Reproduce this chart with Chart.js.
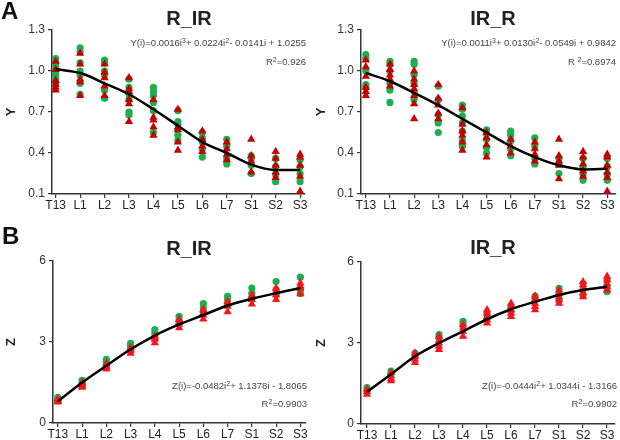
<!DOCTYPE html>
<html>
<head>
<meta charset="utf-8">
<script src="https://cdn.jsdelivr.net/npm/chart.js@4.4.1/dist/chart.umd.min.js"></script>
<style>
  body { margin: 0; background: #fff; font-family: "Liberation Sans", Arial, sans-serif; }
  #wrap { position: relative; width: 620px; height: 440px; overflow: hidden; }
  #wrap canvas { position: absolute; }
  .t { position: absolute; white-space: nowrap; color: #222; line-height: 1; }
  .letter { font-weight: bold; font-size: 24px; color: #111; }
  .title { font-weight: bold; font-size: 20px; transform: translateX(-50%); }
  .eq { font-size: 9.5px; color: #444; text-align: right; }
  .eq sup { font-size: 7px; vertical-align: 3px; line-height: 0; }
</style>
</head>
<body>
<div id="wrap">
  <canvas id="cA1" width="310" height="220" style="left:0;top:0"></canvas>
  <canvas id="cA2" width="310" height="220" style="left:310px;top:0"></canvas>
  <canvas id="cB1" width="310" height="220" style="left:0;top:220px"></canvas>
  <canvas id="cB2" width="310" height="220" style="left:310px;top:220px"></canvas>

  <div class="t letter" style="left:1px;top:-1px">A</div>
  <div class="t letter" style="left:2px;top:224px">B</div>

  <div class="t title" style="left:189px;top:8px">R_IR</div>
  <div class="t title" style="left:493px;top:8px">IR_R</div>
  <div class="t title" style="left:189px;top:238px">R_IR</div>
  <div class="t title" style="left:493px;top:237px">IR_R</div>

  <div class="t eq" style="right:314px;top:38px">Y(i)=0.0016i<sup>3</sup>+ 0.0224i<sup>2</sup>- 0.0141i + 1.0255</div>
  <div class="t eq" style="right:314px;top:57px">R<sup>2</sup>=0.926</div>
  <div class="t eq" style="right:4px;top:38px">Y(i)=0.0011i<sup>3</sup>+ 0.0130i<sup>2</sup>- 0.0549i + 0.9842</div>
  <div class="t eq" style="right:4px;top:57px">R <sup>2</sup>=0.8974</div>
  <div class="t eq" style="right:313px;top:381px">Z(i)=-0.0482i<sup>2</sup>+ 1.1378i - 1.8065</div>
  <div class="t eq" style="right:313px;top:399px">R<sup>2</sup>=0.9903</div>
  <div class="t eq" style="right:3px;top:381px">Z(i)=-0.0444i<sup>2</sup>+ 1.0344i - 1.3166</div>
  <div class="t eq" style="right:3px;top:399px">R<sup>2</sup>=0.9902</div>
</div>

<script>
// segments along the x axis
const categories = ['T13', 'L1', 'L2', 'L3', 'L4', 'L5', 'L6', 'L7', 'S1', 'S2', 'S3'];

// tick labels
const yTicksA = [0.1, 0.4, 0.7, 1.0, 1.3];
const zTicksB = [0, 3, 6];

// panel A, R_IR : one list of values per segment
const yRIRGreen = [
  [1.09, 1.06, 1.03, 1.00, 0.97, 0.94, 0.91],
  [1.17, 1.14, 1.06, 1.00, 0.97, 0.91, 0.83],
  [1.08, 1.06, 1.00, 0.97, 0.86, 0.80],
  [0.94, 0.88, 0.83, 0.79, 0.70, 0.68],
  [0.88, 0.85, 0.82, 0.77, 0.71, 0.55],
  [0.71, 0.63, 0.61, 0.57, 0.53, 0.49],
  [0.55, 0.51, 0.48, 0.43, 0.37],
  [0.50, 0.45, 0.36, 0.32],
  [0.38, 0.36, 0.31, 0.25],
  [0.36, 0.30, 0.24, 0.19],
  [0.35, 0.30, 0.25, 0.19]
];
const yRIRRed = [
  [1.07, 1.01, 0.93, 0.90, 0.88, 0.86],
  [1.13, 1.05, 0.94, 0.92, 0.82],
  [1.05, 0.99, 0.95, 0.89, 0.82],
  [0.95, 0.87, 0.85, 0.79, 0.76, 0.63],
  [0.79, 0.66, 0.64, 0.59, 0.53],
  [0.72, 0.59, 0.57, 0.48, 0.42],
  [0.56, 0.50, 0.45, 0.41],
  [0.48, 0.43, 0.39, 0.35],
  [0.50, 0.38, 0.34, 0.26],
  [0.41, 0.36, 0.31, 0.26, 0.22],
  [0.39, 0.37, 0.31, 0.23, 0.12]
];
const yRIRFit = [1.014, 0.985, 0.91, 0.83, 0.72, 0.60, 0.48, 0.40, 0.315, 0.276, 0.276];

// panel A, IR_R
const yIRRGreen = [
  [1.12, 1.09, 1.00, 0.90, 0.88],
  [1.07, 1.05, 1.00, 0.91, 0.86, 0.77],
  [1.07, 1.05, 0.97, 0.91, 0.85, 0.79],
  [0.89, 0.79, 0.68, 0.62, 0.55],
  [0.75, 0.72, 0.67, 0.62, 0.56, 0.49, 0.45],
  [0.57, 0.54, 0.50, 0.44, 0.40],
  [0.56, 0.53, 0.49, 0.43, 0.38],
  [0.51, 0.45, 0.36, 0.32],
  [0.36, 0.32, 0.25],
  [0.36, 0.30, 0.24, 0.20],
  [0.36, 0.30, 0.24, 0.20]
];
const yIRRRed = [
  [1.08, 1.03, 0.96, 0.88, 0.85, 0.82],
  [1.05, 1.01, 0.97, 0.94, 0.89],
  [1.00, 0.94, 0.90, 0.87, 0.82, 0.76, 0.65],
  [0.90, 0.80, 0.75, 0.69, 0.65],
  [0.73, 0.61, 0.56, 0.53, 0.48, 0.42],
  [0.55, 0.51, 0.46, 0.37],
  [0.50, 0.45, 0.40],
  [0.48, 0.43, 0.39, 0.34],
  [0.50, 0.38, 0.34, 0.31, 0.21],
  [0.41, 0.37, 0.32, 0.27, 0.23],
  [0.39, 0.37, 0.31, 0.26, 0.22, 0.12]
];
const yIRRFit = [0.985, 0.925, 0.84, 0.75, 0.65, 0.55, 0.45, 0.37, 0.31, 0.28, 0.285];

// panel B, R_IR
const zRIRGreen = [
  [0.95, 0.88, 0.83],
  [1.58, 1.50, 1.42],
  [2.36, 2.24, 2.14],
  [2.95, 2.85, 2.75],
  [3.46, 3.34, 3.22],
  [3.95, 3.82, 3.70],
  [4.42, 4.26, 4.10],
  [4.69, 4.57, 4.42],
  [5.00, 4.81, 4.62],
  [5.24, 4.93, 4.75],
  [5.40, 4.93, 4.80]
];
const zRIRRed = [
  [0.89, 0.84, 0.80, 0.77],
  [1.50, 1.44, 1.38, 1.32],
  [2.12, 2.06, 2.00, 2.20],
  [2.79, 2.72, 2.67, 2.58],
  [3.22, 3.15, 3.10, 2.97],
  [3.83, 3.72, 3.65, 3.52],
  [4.20, 4.10, 4.00, 3.85],
  [4.50, 4.40, 4.32, 4.12],
  [4.75, 4.66, 4.57, 4.40],
  [5.00, 4.87, 4.75, 4.57],
  [5.18, 5.08, 5.00, 4.78]
];
const zRIRFit = [0.80, 1.50, 2.12, 2.73, 3.24, 3.65, 4.00, 4.35, 4.60, 4.81, 5.00];

// panel B, IR_R
const zIRRGreen = [
  [1.35, 1.23],
  [1.96, 1.85],
  [2.63, 2.50],
  [3.31, 3.19],
  [3.80, 3.67],
  [4.10, 3.90],
  [4.35, 4.15],
  [4.74, 4.60],
  [5.02, 4.80, 4.59],
  [5.20, 4.98, 4.78],
  [5.33, 5.10, 4.90]
];
const zIRRRed = [
  [1.29, 1.20, 1.10],
  [1.90, 1.78, 1.68, 1.60],
  [2.63, 2.50, 2.39, 2.27],
  [3.25, 3.10, 3.00, 2.88, 2.76],
  [3.67, 3.55, 3.43, 3.25],
  [4.23, 4.10, 3.98, 3.86, 3.74],
  [4.47, 4.35, 4.23, 4.10, 3.98],
  [4.74, 4.60, 4.47, 4.35, 4.23],
  [4.96, 4.84, 4.71, 4.59, 4.47],
  [5.27, 5.15, 5.02, 4.86, 4.71],
  [5.47, 5.33, 5.20, 5.08, 4.96]
];
const zIRRFit = [1.19, 1.84, 2.51, 3.00, 3.43, 3.88, 4.25, 4.53, 4.78, 4.96, 5.08];

const GREEN = '#1cae4f';
const FONT = '"Liberation Sans", Arial, sans-serif';

// turn per-segment lists into scatter points
function toPoints(lists) {
  return lists.flatMap((vals, i) => vals.map(v => ({ x: i, y: v })));
}

function makePanel(id, green, red, fit, redColor, ticks, decimals, yTitle, box) {
  return new Chart(document.getElementById(id), {
    type: 'scatter',
    data: {
      datasets: [
        {
          type: 'line',
          data: fit.map((v, i) => ({ x: i, y: v })),
          borderColor: '#000',
          borderWidth: 2.5,
          pointRadius: 0,
          cubicInterpolationMode: 'monotone',
          fill: false,
          order: 0
        },
        {
          data: toPoints(red),
          pointStyle: 'triangle',
          pointRadius: 4.8,
          backgroundColor: redColor,
          borderColor: redColor,
          borderWidth: 0,
          order: 1
        },
        {
          data: toPoints(green),
          pointStyle: 'circle',
          pointRadius: 3.6,
          backgroundColor: GREEN,
          borderColor: GREEN,
          borderWidth: 0,
          order: 2
        }
      ]
    },
    options: {
      responsive: false,
      animation: false,
      events: [],
      layout: { padding: { top: box.top, right: box.right, left: 0, bottom: 0 } },
      plugins: { legend: { display: false }, tooltip: { enabled: false } },
      scales: {
        x: {
          type: 'linear',
          min: box.xmin,
          max: box.xmax,
          afterBuildTicks: s => { s.ticks = categories.map((c, i) => ({ value: i })); },
          afterFit: s => { s.height = box.xh; },
          ticks: {
            callback: v => categories[v],
            color: '#222',
            font: { size: 12, family: FONT },
            padding: 0,
            maxRotation: 0,
            autoSkip: false
          },
          grid: { drawOnChartArea: false, drawTicks: true, tickLength: 4, color: '#333', lineWidth: 1.2 },
          border: { color: '#333', width: 1.5 }
        },
        y: {
          min: ticks[0],
          max: ticks[ticks.length - 1],
          afterBuildTicks: s => { s.ticks = ticks.map(v => ({ value: v })); },
          afterFit: s => { s.width = box.yw; },
          ticks: {
            callback: v => v.toFixed(decimals),
            color: '#333',
            font: { size: 12, family: FONT },
            padding: 3
          },
          grid: { drawOnChartArea: false, drawTicks: true, tickLength: 4, color: '#333', lineWidth: 1.2 },
          border: { color: '#333', width: 1.5 },
          title: { display: true, text: yTitle, color: '#222', font: { size: 13, weight: 'bold', family: FONT } }
        }
      }
    }
  });
}

makePanel('cA1', yRIRGreen, yRIRRed, yRIRFit, '#c40000', yTicksA, 1, 'Y',
  { top: 30, right: 5, xh: 26, yw: 52, xmin: -0.15, xmax: 10.2 });
makePanel('cA2', yIRRGreen, yIRRRed, yIRRFit, '#c40000', yTicksA, 1, 'Y',
  { top: 30, right: 3, xh: 26, yw: 51, xmin: -0.2, xmax: 10.33 });
makePanel('cB1', zRIRGreen, zRIRRed, zRIRFit, '#f5161b', zTicksB, 0, 'Z',
  { top: 41, right: 3, xh: 17, yw: 53, xmin: -0.2, xmax: 10.2 });
makePanel('cB2', zIRRGreen, zIRRRed, zIRRFit, '#f5161b', zTicksB, 0, 'Z',
  { top: 42, right: 5, xh: 16, yw: 51, xmin: -0.25, xmax: 10.33 });
</script>
</body>
</html>
